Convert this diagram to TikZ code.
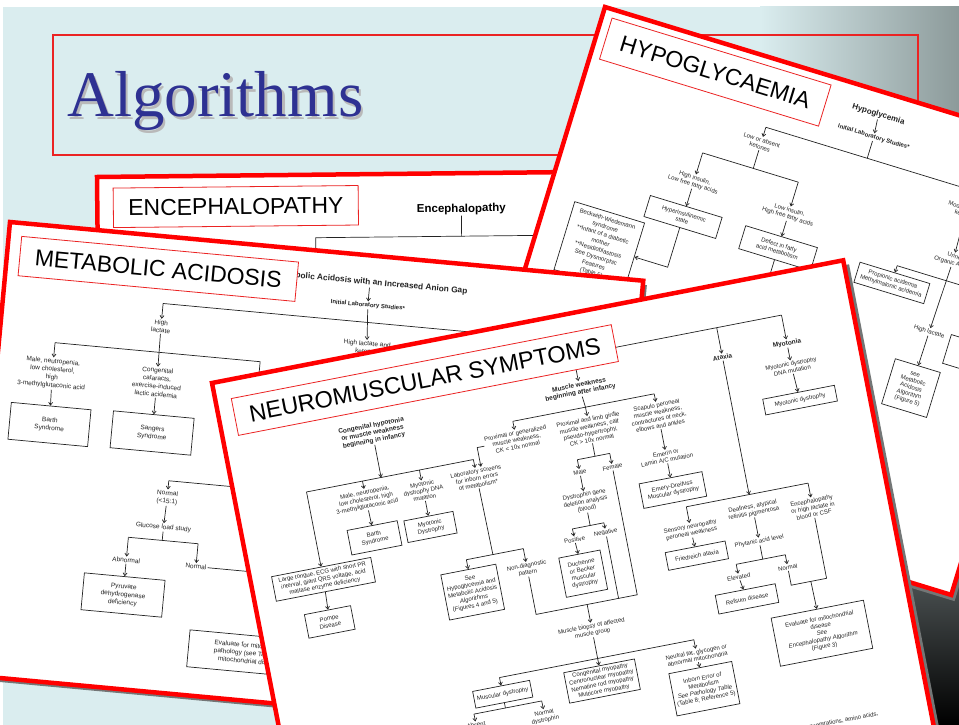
\documentclass[tikz,border=0pt]{standalone}
\usepackage{fontspec}
\setmainfont{Liberation Sans}
\newfontfamily\titleserif{Liberation Serif}
\usepackage{tikz}
\usetikzlibrary{arrows.meta}

\definecolor{slidecyan}{RGB}{218,237,239}
\definecolor{slidegray}{RGB}{140,154,154}
\definecolor{cornerdark}{RGB}{85,92,93}
\definecolor{titleblue}{RGB}{46,49,146}
\definecolor{framered}{RGB}{235,35,35}
\definecolor{cardred}{RGB}{255,0,0}
\definecolor{shadowgray}{RGB}{115,118,118}
\definecolor{inkgray}{RGB}{35,35,35}

\newcommand{\cardsize}[2]{\fontsize{#1}{#2}\selectfont}

\begin{document}
\begin{tikzpicture}[x=1pt, y=-1pt,
    card/.style={fill=white, draw=cardred, line width=4.5pt},
    cardshadow/.style={fill=shadowgray},
    tagbox/.style={draw=framered, line width=0.8pt, fill=white, inner sep=0pt, font=\cardsize{23}{23}},
    txt/.style={align=center, text=inkgray, inner sep=1pt, font=\cardsize{6}{7}},
    mtxt/.style={txt, font=\cardsize{6.5}{8}},
    head/.style={txt, font=\cardsize{6.5}{7.5}\bfseries},
    box/.style={txt, draw=inkgray, line width=0.7pt},
    mbox/.style={mtxt, draw=inkgray, line width=0.7pt},
    link/.style={draw=inkgray, line width=0.7pt},
    arrow/.style={link, -{Straight Barb[length=2.8pt, width=4pt]}}]

% Slide
\useasboundingbox (0,0) rectangle (959,725);
\clip (0,0) rectangle (959,725);
\fill[white] (0,0) rectangle (959,725);
\fill[slidecyan] (3,7) rectangle (959,725);
\shade[left color=slidecyan, right color=slidegray] (760,7) rectangle (959,725);
\shade[top color=cornerdark, bottom color=black] (860,560) rectangle (959,725);
\draw[framered, line width=1.1pt] (53,35) rectangle (918,155);
\node[anchor=base west, inner sep=0pt, text=gray!55, font=\titleserif\cardsize{65}{65}] (title-shadow) at (69.5,119.5) {Algorithms};
\node[anchor=base west, inner sep=0pt, text=titleblue, font=\titleserif\cardsize{65}{65}] (title) at (67,117) {Algorithms};

% Encephalopathy card
\begin{scope}[transform canvas={shift={(97,177)}, rotate=0.6}]
  \fill[cardshadow] (4,4) rectangle (524,304);
  \draw[card] (0,0) rectangle (520,300);
  % Nodes
  \node[head, text=black, font=\cardsize{11.5}{12}\bfseries] (e-title) at (364,36) {Encephalopathy};
  \coordinate (e-left) at (218,80);
  \coordinate (e-right) at (470,63);
  % Arrows
  \draw[link] (e-left) |- (e-right);
  \draw[link] (e-title) -- (e-title |- e-right);
  \node[tagbox, minimum width=245pt, minimum height=39.5pt] (e-tag) at (138.5,31) {ENCEPHALOPATHY};
\end{scope}

% Hypoglycaemia card
\begin{scope}[transform canvas={shift={(605,7)}, rotate=-17}]
  \fill[cardshadow] (5,5) rectangle (508,466);
  \draw[card] (0,0) rectangle (503,461);
  % Nodes
  \node[head, font=\cardsize{8}{9}\bfseries] (h-title) at (293,23) {Hypoglycemia};
  \node[head, font=\cardsize{6}{7}\bfseries] (h-init) at (295,46) {Initial Laboratory Studies*};
  \coordinate (h-bar1) at (295,68);
  \coordinate (h-bar1r) at (480,68);
  \node[txt] (h-low) at (189,85) {Low or absent\\ketones};
  \node[txt] (h-mod) at (405,90) {Moderate/high\\ketones};
  \coordinate (h-bar2) at (189,111);
  \node[txt] (h-hins) at (136,141) {High insulin,\\Low free fatty acids};
  \node[txt] (h-lins) at (236,144) {Low insulin,\\High free fatty acids};
  \node[box, minimum width=75pt, minimum height=22pt] (h-hyper) at (136,178) {Hyperinsulinemic\\state};
  \node[box, minimum width=75pt, minimum height=24pt] (h-defect) at (236,180) {Defect in fatty\\acid metabolism};
  \node[box, font=\cardsize{6}{8}, minimum width=73pt, minimum height=71pt] (h-beck) at (64.5,230.5) {Beckwith-Wiedemann\\syndrome\\**Infant of a diabetic\\mother\\**Nesidioblastosis\\See Dysmorphic\\Features\\(Table 5)};
  \coordinate (h-defend) at (236,240);
  \node[txt] (h-urine) at (407,140) {Urine\\Organic Acids};
  \coordinate (h-bar3) at (407,162);
  \node[box, minimum width=73pt, minimum height=21pt] (h-prop) at (355,180) {Propionic acidemia\\Methylmalonic acidemia};
  \node[box, minimum width=50pt, minimum height=30pt] (h-other) at (452,227) {Lactate\\normal};
  \node[txt] (h-hlac) at (405,216) {High lactate};
  \node[box, minimum width=47pt, minimum height=47pt] (h-see) at (404,275) {see\\Metabolic\\Acidosis\\Algorithm\\(Figure 5)};
  % Arrows
  \draw[arrow] (h-title) -- (h-init);
  \draw[link] (h-init) -- (h-init |- h-bar1);
  \draw[link] (h-low |- h-bar1) -- (h-bar1r);
  \draw[arrow] (h-low |- h-bar1) -- (h-low);
  \draw[arrow] (h-mod |- h-bar1) -- (h-mod);
  \draw[link] (h-low) -- (h-bar2);
  \draw[link] (h-hins |- h-bar2) -- (h-lins |- h-bar2);
  \draw[arrow] (h-hins |- h-bar2) -- (h-hins);
  \draw[arrow] (h-lins |- h-bar2) -- (h-lins);
  \draw[arrow] (h-hins) -- (h-hyper);
  \draw[arrow] (h-lins) -- (h-defect);
  \draw[arrow] (h-hyper) |- (h-beck);
  \draw[link] (h-defect) -- (h-defend);
  \draw[arrow] (h-mod) -- (h-urine);
  \draw[link] (h-prop |- h-bar3) -- (h-other |- h-bar3);
  \draw[arrow] (h-prop |- h-bar3) -- (h-prop);
  \draw[arrow] (h-other |- h-bar3) -- (h-other);
  \draw[arrow] (h-urine) -- (h-hlac);
  \draw[arrow] (h-hlac) -- (h-see);
  \node[tagbox, minimum width=229pt, minimum height=43pt] (h-tag) at (124.5,30) {HYPOGLYCAEMIA};
\end{scope}

% Metabolic acidosis card
\begin{scope}[transform canvas={shift={(10,222)}, rotate=-5.3}]
  \fill[cardshadow] (4,4) rectangle (640,459);
  \draw[card] (0,0) rectangle (636,455);
  % Nodes
  \node[head, anchor=east, font=\cardsize{8.3}{9}\bfseries] (m-title) at (463,27) {Metabolic Acidosis with an Increased Anion Gap};
  \node[head, font=\cardsize{6}{7}\bfseries] (m-init) at (364,50) {Initial Laboratory Studies*};
  \coordinate (m-bar1) at (364,67);
  \coordinate (m-bar1r) at (560,67);
  \node[mtxt] (m-hl) at (160,90) {High\\lactate};
  \node[mtxt] (m-hlk) at (367,92) {High lactate and\\ketones};
  \coordinate (m-bar2) at (160,116);
  \node[mtxt] (m-male) at (56,147) {Male, neutropenia,\\low cholesterol,\\high\\3-methylglutaconic acid};
  \node[mtxt] (m-cong) at (161,146) {Congenital\\cataracts,\\exercise-induced\\lactic acidemia};
  \node[mtxt] (m-lp) at (262,140) {Lactate:pyruvate\\ratio};
  \node[mbox, minimum width=80pt, minimum height=37pt] (m-barth) at (58,198) {Barth\\Syndrome};
  \node[mbox, minimum width=81pt, minimum height=37pt] (m-sang) at (161,197) {Sangers\\Syndrome};
  \coordinate (m-bar3) at (182,243);
  \coordinate (m-bar3r) at (300,243);
  \node[mtxt] (m-normal) at (182,260) {Normal\\(<15:1)};
  \node[mtxt] (m-glu) at (181,290) {Glucose load study};
  \coordinate (m-bar4) at (181,303);
  \node[mtxt] (m-abn) at (147,326) {Abnormal};
  \node[mtxt] (m-nor) at (217,326) {Normal};
  \coordinate (m-norend) at (320,326);
  \node[mbox, minimum width=81pt, minimum height=37pt] (m-pdh) at (147,361) {Pyruvate\\dehydrogenase\\deficiency};
  \node[mbox, minimum width=126pt, minimum height=37pt] (m-eval) at (280,408) {Evaluate for mitochondrial\\pathology (see Table 8 for\\mitochondrial disease)};
  % Arrows
  \draw[arrow] (m-title.south -| m-init) -- (m-init);
  \draw[link] (m-hl |- m-bar1) -- (m-bar1r);
  \draw[arrow] (m-init) -- (m-hlk);
  \draw[arrow] (m-hl |- m-bar1) -- (m-hl);
  \draw[link] (m-male |- m-bar2) -- (m-lp |- m-bar2);
  \draw[arrow] (m-hl) -- (m-cong);
  \draw[arrow] (m-male |- m-bar2) -- (m-male);
  \draw[arrow] (m-lp |- m-bar2) -- (m-lp);
  \draw[arrow] (m-male) -- (m-barth);
  \draw[arrow] (m-cong) -- (m-sang);
  \draw[link] (m-bar3) -- (m-bar3r);
  \draw[arrow] (m-bar3) -- (m-normal);
  \draw[arrow] (m-normal) -- (m-glu);
  \draw[link] (m-glu) -- (m-bar4);
  \draw[link] (m-abn |- m-bar4) -- (m-nor |- m-bar4);
  \draw[arrow] (m-abn |- m-bar4) -- (m-abn);
  \draw[arrow] (m-nor |- m-bar4) -- (m-nor);
  \draw[arrow] (m-abn) -- (m-pdh);
  \draw[link] (m-nor) -- (m-norend);
  \node[tagbox, minimum width=278pt, minimum height=39.5pt] (m-tag) at (152,33) {METABOLIC ACIDOSIS};
\end{scope}

% Neuromuscular symptoms card
\begin{scope}[transform canvas={shift={(212,383)}, rotate=11}]
  \fill[cardshadow] (5,5) rectangle (648,525);
  \draw[card] (0,0) rectangle (643,520);
  % Nodes
  \coordinate (n-topl) at (360,42);
  \coordinate (n-topr) at (572,42);
  \node[head] (n-mw) at (360,76) {Muscle weakness\\beginning after infancy};
  \node[head] (n-ataxia) at (506,72) {Ataxia};
  \node[head] (n-myo) at (572,71) {Myotonia};
  \node[txt] (n-mdm) at (572,95) {Myotonic dystrophy\\DNA mutation};
  \node[box, minimum width=73pt, minimum height=16pt] (n-mdbox) at (574,129) {Myotonic dystrophy};
  \coordinate (n-bar1) at (362,95);
  \node[txt] (n-prox1) at (288,114) {Proximal or generalized\\muscle weakness,\\CK < 10x normal};
  \node[txt] (n-prox2) at (362,118) {Proximal and limb girdle\\muscle weakness, calf\\pseudo-hypertrophy,\\CK > 10x normal};
  \node[txt] (n-scap) at (432,117) {Scapulo peroneal\\muscle weakness,\\contractures of neck,\\elbows and ankles};
  \node[txt] (n-emerin) at (432,159) {Emerin or\\Lamin A/C mutation};
  \node[box, minimum width=64pt, minimum height=25pt] (n-emery) at (432,193) {Emery-Dreifuss\\Muscular dystrophy};
  \coordinate (n-bar2) at (362,145);
  \node[txt] (n-male) at (344,158) {Male};
  \node[txt] (n-female) at (377,159) {Female};
  \node[txt] (n-dys) at (344,188) {Dystrophin gene\\deletion analysis\\(blood)};
  \coordinate (n-bar3) at (344,212);
  \node[txt] (n-pos) at (326,223) {Positive};
  \node[txt] (n-neg) at (358,222) {Negative};
  \node[box, minimum width=42pt, minimum height=40pt] (n-duch) at (328,258) {Duchenne\\or Becker\\muscular\\dystrophy};
  \node[txt] (n-nond) at (274,243) {Non-diagnostic\\pattern};
  \coordinate (n-bot) at (326,289);
  \node[txt] (n-biopsy) at (326,315) {Muscle biopsy of affected\\muscle group};
  \coordinate (n-bar4) at (326,344);
  \node[box, minimum width=72pt, minimum height=31pt] (n-cmy) at (326,367) {Congenital myopathy\\Centronuclear myopathy\\Nemaline rod myopathy\\Multicore myopathy};
  \node[box, minimum width=58pt, minimum height=17pt] (n-mdys) at (226,361) {Muscular dystrophy};
  \node[txt] (n-neut) at (424,360) {Neutral fat, glycogen or\\abnormal mitochondria};
  \node[box, minimum width=64pt, minimum height=43pt] (n-iem) at (425,394) {Inborn Error of\\Metabolism\\\textit{See Pathology Table}\\(Table 8; Reference 5)};
  \coordinate (n-bar5) at (226,375);
  \node[txt] (n-absent) at (194,390) {Absent\\dystrophin};
  \node[txt] (n-ndys) at (263,391) {Normal\\dystrophin};
  \node[head] (n-cong) at (148,80) {Congenital hypotonia\\or muscle weakness\\beginning in infancy};
  \coordinate (n-bar6) at (148,125);
  \node[txt] (n-male2) at (129,144) {Male, neutropenia,\\low cholesterol, high\\3-methylglutaconic acid};
  \node[txt] (n-myo2) at (187,146) {Myotonic\\dystrophy DNA\\mutation};
  \node[txt] (n-lab) at (242,144) {Laboratory screens\\for inborn errors\\of metabolism*};
  \node[box, minimum width=101pt, minimum height=25pt] (n-large) at (72,214) {Large tongue, ECG with short PR\\interval, giant QRS voltage, acid\\maltase enzyme deficiency};
  \node[box, minimum width=47pt, minimum height=24pt] (n-pompe) at (70,257) {Pompe\\Disease};
  \node[box, minimum width=51pt, minimum height=25pt] (n-barth) at (130,183) {Barth\\Syndrome};
  \node[box, minimum width=50pt, minimum height=22pt] (n-mdbox2) at (187,183) {Myotonic\\Dystrophy};
  \coordinate (n-bar7) at (243,222);
  \node[box, minimum width=56pt, minimum height=46pt] (n-see) at (216,255) {See\\Hypoglycemia and\\Metabolic Acidosis\\\textit{Algorithms}\\(Figures 4 and 5)};
  \coordinate (n-bar8) at (506,212);
  \node[txt] (n-sens) at (442,236) {Sensory neuropathy\\peroneal weakness};
  \node[txt] (n-deaf) at (507,228) {Deafness, atypical\\retinitis pigmentosa};
  \node[txt] (n-enc) at (566,237) {Encephalopathy\\or high lactate in\\blood or CSF};
  \node[box, minimum width=61pt, minimum height=18pt] (n-fried) at (443,262) {Friedreich ataxia};
  \node[txt] (n-phyt) at (507,260) {Phytanic acid level};
  \coordinate (n-bar9) at (507,278);
  \node[txt] (n-elev) at (480,291) {Elevated};
  \node[txt] (n-norm2) at (530,291) {Normal};
  \node[box, minimum width=61pt, minimum height=19pt] (n-refsum) at (484,314) {Refsum disease};
  \coordinate (n-bar10) at (550,309);
  \node[box, minimum width=94pt, minimum height=49pt] (n-evalm) at (551,362) {Evaluate for mitochondrial\\disease\\\textit{See}\\\textit{Encephalopathy Algorithm}\\(Figure 3)};
  \node[txt, anchor=east] (n-foot) at (592,452) {*Blood gas, electrolyte and glucose concentrations, amino acids,};
  % Arrows
  \draw[link] (n-topl) -- (n-topr);
  \draw[arrow] (n-topl) -- (n-mw);
  \draw[arrow] (n-topl -| n-ataxia) -- (n-ataxia);
  \draw[arrow] (n-topr) -- (n-myo);
  \draw[arrow] (n-myo) -- (n-mdm);
  \draw[arrow] (n-mdm) -- (n-mdbox);
  \draw[link] (n-mw) -- (n-bar1);
  \draw[link] (n-prox1 |- n-bar1) -- (n-scap |- n-bar1);
  \draw[arrow] (n-prox1 |- n-bar1) -- (n-prox1);
  \draw[arrow] (n-bar1) -- (n-prox2);
  \draw[arrow] (n-scap |- n-bar1) -- (n-scap);
  \draw[arrow] (n-scap) -- (n-emerin);
  \draw[arrow] (n-emerin) -- (n-emery);
  \draw[link] (n-prox2) -- (n-bar2);
  \draw[link] (n-male |- n-bar2) -- (n-female |- n-bar2);
  \draw[arrow] (n-male |- n-bar2) -- (n-male);
  \draw[arrow] (n-female |- n-bar2) -- (n-female);
  \draw[arrow] (n-male) -- (n-dys);
  \draw[link] (n-dys) -- (n-bar3);
  \draw[link] (n-pos |- n-bar3) -- (n-neg |- n-bar3);
  \draw[arrow] (n-pos |- n-bar3) -- (n-pos);
  \draw[arrow] (n-neg |- n-bar3) -- (n-neg);
  \draw[arrow] (n-pos) -- (n-duch);
  \draw[link] (n-nond) |- (n-bot -| n-female) -- (n-female);
  \draw[link] (n-neg) -- (n-neg |- n-bot);
  \draw[arrow] (n-bot) -- (n-biopsy);
  \draw[link] (n-mdys |- n-bar4) -- (n-neut |- n-bar4);
  \draw[arrow] (n-biopsy) -- (n-cmy);
  \draw[arrow] (n-mdys |- n-bar4) -- (n-mdys);
  \draw[arrow] (n-neut |- n-bar4) -- (n-neut);
  \draw[arrow] (n-neut) -- (n-iem);
  \draw[link] (n-mdys) -- (n-bar5);
  \draw[link] (n-absent |- n-bar5) -- (n-ndys |- n-bar5);
  \draw[arrow] (n-absent |- n-bar5) -- (n-absent);
  \draw[arrow] (n-ndys |- n-bar5) -- (n-ndys);
  \draw[arrow] (n-cong) -- (n-bar6);
  \draw[link] (n-large |- n-bar6) -- (n-lab |- n-bar6);
  \draw[arrow] (n-large |- n-bar6) -- (n-large);
  \draw[arrow] (n-male2 |- n-bar6) -- (n-male2);
  \draw[arrow] (n-myo2 |- n-bar6) -- (n-myo2);
  \draw[arrow] (n-lab |- n-bar6) -- (n-lab);
  \draw[arrow] (n-prox1.west) -| ([xshift=6pt]n-lab.north);
  \draw[arrow] (n-male2) -- (n-barth);
  \draw[arrow] (n-myo2) -- (n-mdbox2);
  \draw[arrow] (n-large) -- (n-pompe);
  \draw[link] (n-lab) -- (n-bar7);
  \draw[link] (n-see |- n-bar7) -- (n-nond |- n-bar7);
  \draw[arrow] (n-see |- n-bar7) -- (n-see);
  \draw[arrow] (n-nond |- n-bar7) -- (n-nond);
  \draw[arrow] (n-ataxia) -- (n-bar8);
  \draw[link] (n-sens |- n-bar8) -- (n-enc |- n-bar8);
  \draw[arrow] (n-sens |- n-bar8) -- (n-sens);
  \draw[arrow] (n-enc |- n-bar8) -- (n-enc);
  \draw[arrow] (n-sens) -- (n-fried);
  \draw[arrow] (n-deaf) -- (n-phyt);
  \draw[link] (n-phyt) -- (n-bar9);
  \draw[link] (n-elev |- n-bar9) -- (n-norm2 |- n-bar9);
  \draw[arrow] (n-elev |- n-bar9) -- (n-elev);
  \draw[arrow] (n-norm2 |- n-bar9) -- (n-norm2);
  \draw[arrow] (n-elev) -- (n-refsum);
  \draw[link] (n-norm2) |- (n-bar10 -| n-enc) -- (n-enc);
  \draw[arrow] (n-bar10) -- (n-evalm);
  \node[tagbox, font=\cardsize{23.5}{23.5}, minimum width=387pt, minimum height=37.5pt] (n-tag) at (209.5,37.7) {NEUROMUSCULAR SYMPTOMS};
\end{scope}

\end{tikzpicture}
\end{document}
